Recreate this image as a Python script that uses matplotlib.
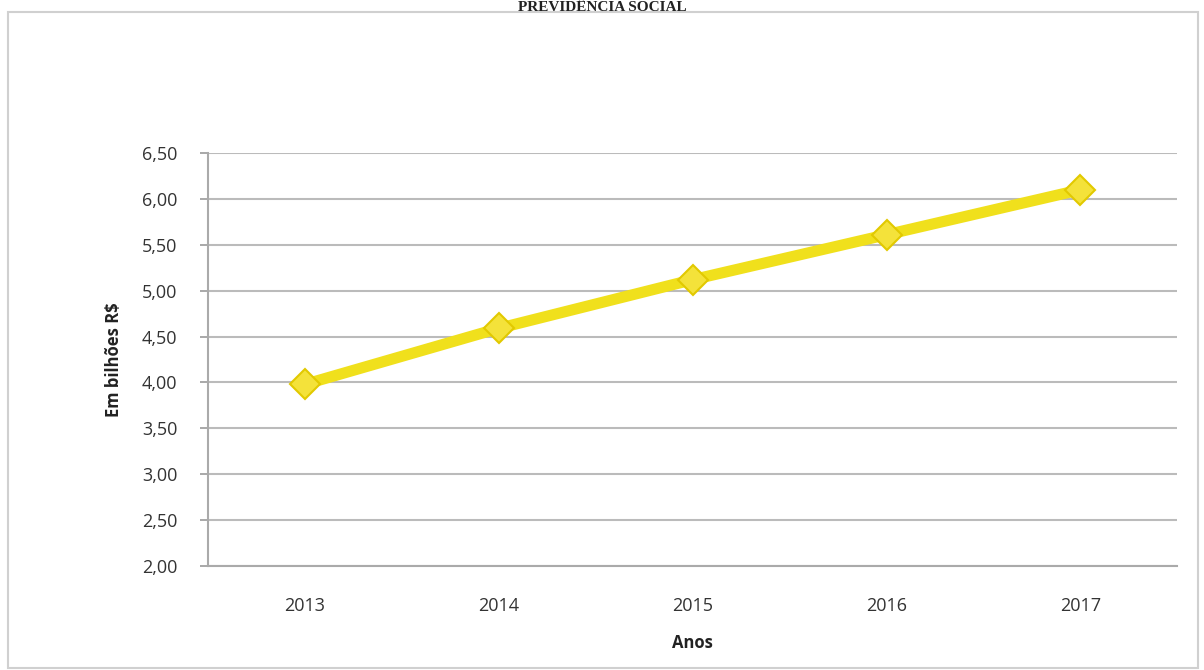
import matplotlib.pyplot as plt
from matplotlib.patches import Rectangle

anos = ['2013', '2014', '2015', '2016', '2017']
valores = [3.98, 4.59, 5.12, 5.61, 6.10]
yticks = [2.0, 2.5, 3.0, 3.5, 4.0, 4.5, 5.0, 5.5, 6.0, 6.5]

plt.rcParams['font.family'] = ['Open Sans', 'DejaVu Sans']

fig = plt.figure(figsize=(12.04, 6.70), dpi=100)
ax = fig.add_axes([0.1728, 0.1552, 0.805, 0.6164])

x = list(range(len(anos)))
ax.plot(x, valores, color='#F0E01C', linewidth=8, solid_capstyle='round',
        marker='D', markersize=15, markerfacecolor='#F4E23A',
        markeredgecolor='#E2C900', markeredgewidth=1.5, zorder=3)

ax.set_xlim(-0.5, len(anos) - 0.5)
ax.set_ylim(2.0, 6.5)
ax.set_xticks(x)
ax.set_xticklabels(anos)
ax.set_yticks(yticks)
ax.set_yticklabels([f'{v:.2f}'.replace('.', ',') for v in yticks])
ax.tick_params(axis='x', length=0, pad=22, labelsize=13, colors='#333333')
ax.tick_params(axis='y', length=6, width=1.2, color='#999999', pad=16,
               labelsize=13, labelcolor='#333333')

ax.grid(axis='y', color='#BBBBBB', linewidth=1.5)
ax.set_axisbelow(True)
for s in ['top', 'right']:
    ax.spines[s].set_visible(False)
for s in ['left', 'bottom']:
    ax.spines[s].set_color('#AAAAAA')
    ax.spines[s].set_linewidth(1.5)

ax.set_xlabel('Anos', fontsize=12, fontweight='bold', labelpad=14, color='#222222')
ax.set_ylabel('Em bilhões R$', fontsize=12, fontweight='bold', labelpad=14, color='#222222')

# moldura do gráfico
fig.patches.append(Rectangle((8 / 1204, 2 / 670), 1190 / 1204, 656 / 670,
                             transform=fig.transFigure, fill=False,
                             edgecolor='#D0D0D0', linewidth=1.5))

fig.text(0.5, 0.999, 'PREVIDÊNCIA SOCIAL', ha='center', va='top',
         family='Liberation Serif', fontsize=11, fontweight='bold', color='#222222')

fig.savefig('out.png', dpi=100, facecolor='white')
